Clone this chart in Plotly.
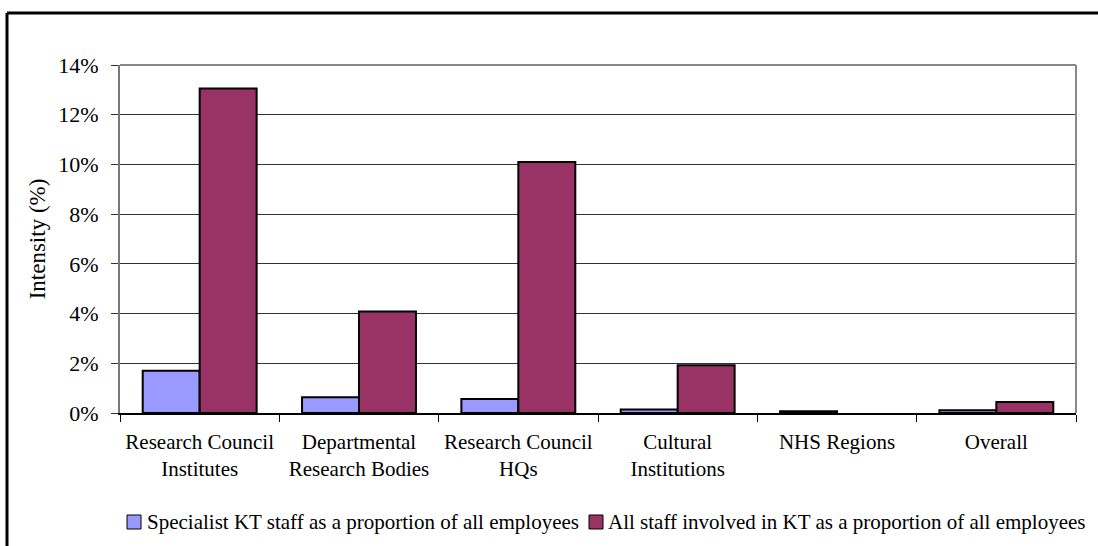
import plotly.graph_objects as go

# Knowledge-transfer staff intensity by organisation type
categories = [
    "Research Council<br>Institutes",
    "Departmental<br>Research Bodies",
    "Research Council<br>HQs",
    "Cultural<br>Institutions",
    "NHS Regions",
    "Overall",
]
specialist_kt = [1.70, 0.63, 0.56, 0.14, 0.07, 0.11]
all_kt = [13.05, 4.08, 10.1, 1.92, None, 0.44]

series_names = [
    "Specialist KT staff as a proportion of all employees",
    "All staff involved in KT as a proportion of all employees",
]
series_colors = ["#9999FF", "#993366"]
y_tick_vals = [0, 2, 4, 6, 8, 10, 12, 14]
y_tick_text = ["0%", "2%", "4%", "6%", "8%", "10%", "12%", "14%"]

FONT = "Liberation Serif, Times New Roman, serif"
W, H = 1098, 546
ML, MR, MT, MB = 120, 22, 65, 133
pw, ph = W - ML - MR, H - MT - MB


def px_x(px):
    return (px - ML) / pw


def px_y(py):
    return (H - MB - py) / ph


fig = go.Figure()
for name, vals, col in zip(series_names, [specialist_kt, all_kt], series_colors):
    fig.add_trace(go.Bar(
        x=categories, y=vals, name=name,
        marker=dict(color=col, line=dict(color="black", width=2)),
    ))

shapes = [
    # plot-area frame (top and right edges)
    dict(type="line", xref="paper", yref="paper", x0=0, x1=1, y0=1, y1=1,
         line=dict(color="#888888", width=2)),
    dict(type="line", xref="paper", yref="paper", x0=1, x1=1, y0=0, y1=1,
         line=dict(color="#888888", width=2)),
    # outer chart border
    dict(type="line", xref="paper", yref="paper",
         x0=px_x(7), x1=px_x(1110), y0=px_y(13), y1=px_y(13),
         line=dict(color="black", width=3)),
    dict(type="line", xref="paper", yref="paper",
         x0=px_x(7), x1=px_x(7), y0=px_y(13), y1=px_y(560),
         line=dict(color="black", width=3)),
]

# legend: swatch + label for each series
annotations = []
legend_items = [(127, 145), (589, 606)]
for (sx, tx), name, col in zip(legend_items, series_names, series_colors):
    shapes.append(dict(
        type="rect", xref="paper", yref="paper",
        x0=px_x(sx), x1=px_x(sx + 14), y0=px_y(529), y1=px_y(515),
        fillcolor=col, line=dict(color="black", width=1),
    ))
    annotations.append(dict(
        xref="paper", yref="paper", x=px_x(tx), y=px_y(522),
        xanchor="left", yanchor="middle", showarrow=False,
        text=name, font=dict(family=FONT, size=21, color="black"),
    ))

fig.update_layout(
    width=W, height=H,
    margin=dict(l=ML, r=MR, t=MT, b=MB, pad=0),
    paper_bgcolor="white", plot_bgcolor="white",
    font=dict(family=FONT, size=21, color="black"),
    barmode="group", bargap=0.285, bargroupgap=0,
    showlegend=False,
    shapes=shapes,
    annotations=annotations,
)
fig.update_xaxes(
    type="category", showline=True, linecolor="black", linewidth=1.5,
    ticks="outside", tickson="boundaries", ticklen=7, tickcolor="black",
    tickfont=dict(family=FONT, size=21), showgrid=False,
    ticklabelstandoff=9, automargin=False,
)
fig.update_yaxes(
    range=[0, 14], tickvals=y_tick_vals, ticktext=y_tick_text,
    showline=True, linecolor="#777777", linewidth=2,
    ticks="outside", ticklen=7, tickcolor="#333333",
    showgrid=True, gridcolor="#333333", gridwidth=1,
    zeroline=False, ticklabelstandoff=8, automargin=False,
    title=dict(text="Intensity (%)", font=dict(family=FONT, size=23), standoff=6),
    tickfont=dict(family=FONT, size=22),
)

fig.write_html("out.html")
